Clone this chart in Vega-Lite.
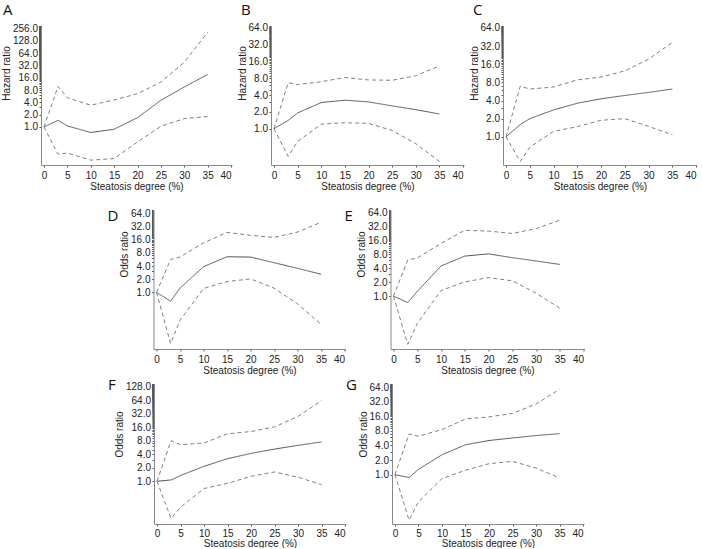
{
"$schema": "https://vega.github.io/schema/vega-lite/v6.json",
"background": "white",
"padding": {"left": 1, "top": 3, "right": 0, "bottom": 0},
"data": {"values": [
{"p":"A","x":0,"est":1,"lo":1,"hi":1},
{"p":"A","x":3,"est":1.45,"lo":0.215,"hi":9.8},
{"p":"A","x":5,"est":1.06,"lo":0.23,"hi":5.2},
{"p":"A","x":10,"est":0.73,"lo":0.154,"hi":3.4},
{"p":"A","x":15,"est":0.88,"lo":0.168,"hi":4.6},
{"p":"A","x":20,"est":1.69,"lo":0.43,"hi":6.5},
{"p":"A","x":25,"est":4.5,"lo":1.04,"hi":12.6},
{"p":"A","x":30,"est":9.5,"lo":1.6,"hi":38.6},
{"p":"A","x":35,"est":19.3,"lo":1.8,"hi":208},
{"p":"B","x":0,"est":1,"lo":1,"hi":1},
{"p":"B","x":3,"est":1.41,"lo":0.32,"hi":6.7},
{"p":"B","x":5,"est":1.92,"lo":0.59,"hi":6.2},
{"p":"B","x":10,"est":2.95,"lo":1.21,"hi":6.96},
{"p":"B","x":15,"est":3.25,"lo":1.28,"hi":8.3},
{"p":"B","x":20,"est":3.03,"lo":1.25,"hi":7.5},
{"p":"B","x":25,"est":2.57,"lo":0.93,"hi":7.4},
{"p":"B","x":30,"est":2.2,"lo":0.54,"hi":8.9},
{"p":"B","x":35,"est":1.84,"lo":0.26,"hi":13.4},
{"p":"C","x":0,"est":1,"lo":1,"hi":1},
{"p":"C","x":3,"est":1.59,"lo":0.39,"hi":6.9},
{"p":"C","x":5,"est":2.0,"lo":0.67,"hi":6.2},
{"p":"C","x":10,"est":2.79,"lo":1.23,"hi":6.7},
{"p":"C","x":15,"est":3.6,"lo":1.47,"hi":8.8},
{"p":"C","x":20,"est":4.27,"lo":1.88,"hi":9.8},
{"p":"C","x":25,"est":4.85,"lo":2.0,"hi":12.4},
{"p":"C","x":30,"est":5.45,"lo":1.49,"hi":19.4},
{"p":"C","x":35,"est":6.2,"lo":1.08,"hi":36.8},
{"p":"D","x":0,"est":1,"lo":1,"hi":1},
{"p":"D","x":3,"est":0.63,"lo":0.068,"hi":5.66},
{"p":"D","x":5,"est":1.25,"lo":0.23,"hi":6.4},
{"p":"D","x":10,"est":3.86,"lo":1.23,"hi":13.5},
{"p":"D","x":15,"est":6.5,"lo":1.77,"hi":23.4},
{"p":"D","x":20,"est":6.4,"lo":2.03,"hi":20},
{"p":"D","x":25,"est":4.76,"lo":1.25,"hi":18},
{"p":"D","x":30,"est":3.54,"lo":0.55,"hi":23.8},
{"p":"D","x":35,"est":2.6,"lo":0.186,"hi":40},
{"p":"E","x":0,"est":1,"lo":1,"hi":1},
{"p":"E","x":3,"est":0.73,"lo":0.092,"hi":5.96},
{"p":"E","x":5,"est":1.26,"lo":0.257,"hi":6.6},
{"p":"E","x":10,"est":4.44,"lo":1.32,"hi":13.6},
{"p":"E","x":15,"est":7.25,"lo":2.02,"hi":26},
{"p":"E","x":20,"est":8.1,"lo":2.5,"hi":25},
{"p":"E","x":25,"est":6.7,"lo":2.13,"hi":22.2},
{"p":"E","x":30,"est":5.7,"lo":1.16,"hi":28.3},
{"p":"E","x":35,"est":4.8,"lo":0.55,"hi":42.9},
{"p":"F","x":0,"est":1,"lo":1,"hi":1},
{"p":"F","x":3,"est":1.07,"lo":0.148,"hi":8.0},
{"p":"F","x":5,"est":1.34,"lo":0.265,"hi":6.5},
{"p":"F","x":10,"est":2.15,"lo":0.69,"hi":7.1},
{"p":"F","x":15,"est":3.18,"lo":0.9,"hi":11.4},
{"p":"F","x":20,"est":4.17,"lo":1.29,"hi":12.8},
{"p":"F","x":25,"est":5.2,"lo":1.61,"hi":16.2},
{"p":"F","x":30,"est":6.3,"lo":1.23,"hi":27.6},
{"p":"F","x":35,"est":7.5,"lo":0.84,"hi":62.7},
{"p":"G","x":0,"est":1,"lo":1,"hi":1},
{"p":"G","x":3,"est":0.87,"lo":0.115,"hi":6.9},
{"p":"G","x":5,"est":1.29,"lo":0.275,"hi":6.2},
{"p":"G","x":10,"est":2.57,"lo":0.83,"hi":8.5},
{"p":"G","x":15,"est":4.13,"lo":1.23,"hi":14.1},
{"p":"G","x":20,"est":5.06,"lo":1.68,"hi":15.5},
{"p":"G","x":25,"est":5.7,"lo":1.88,"hi":18.3},
{"p":"G","x":30,"est":6.4,"lo":1.37,"hi":28.5},
{"p":"G","x":35,"est":7.0,"lo":0.86,"hi":57.8}
]},
"center": true,
"spacing": 14,
"vconcat": [
{"hconcat": [
{"width": 191, "height": 139,
 "title": {"text": "A", "dx": -38, "dy": 1},
 "transform": [{"filter": "datum.p === 'A'"}, {"fold": ["est","lo","hi"], "as": ["s","y"]}],
 "mark": {"type": "line", "strokeWidth": 1},
 "encoding": {
  "x": {"field": "x", "type": "quantitative", "scale": {"domain": [-0.64, 40.2], "nice": false, "zero": false}, "axis": {"title": "Steatosis degree (%)", "values": [0,5,10,15,20,25,30,35,40], "format": "d"}},
  "y": {"field": "y", "type": "quantitative", "scale": {"type": "log", "base": 2, "domain": [0.117, 296], "nice": false}, "axis": {"title": "Hazard ratio", "titleY": 47, "values": [1,2,3,4,5,6,7,8,9,10,11,12,13,14,15,16,17,18,19,20,21,22,23,24,25,26,27,28,29,30,31,32,33,34,35,36,37,38,39,40,41,42,43,44,45,46,47,48,49,50,51,52,53,54,55,56,57,58,59,60,61,62,63,64,65,66,67,68,69,70,71,72,73,74,75,76,77,78,79,80,81,82,83,84,85,86,87,88,89,90,91,92,93,94,95,96,97,98,99,100,101,102,103,104,105,106,107,108,109,110,111,112,113,114,115,116,117,118,119,120,121,122,123,124,125,126,127,128,129,130,131,132,133,134,135,136,137,138,139,140,141,142,143,144,145,146,147,148,149,150,151,152,153,154,155,156,157,158,159,160,161,162,163,164,165,166,167,168,169,170,171,172,173,174,175,176,177,178,179,180,181,182,183,184,185,186,187,188,189,190,191,192,193,194,195,196,197,198,199,200,201,202,203,204,205,206,207,208,209,210,211,212,213,214,215,216,217,218,219,220,221,222,223,224,225,226,227,228,229,230,231,232,233,234,235,236,237,238,239,240,241,242,243,244,245,246,247,248,249,250,251,252,253,254,255,256,257,258,259,260,261,262,263,264,265,266,267,268,269,270,271,272,273,274,275,276,277,278,279,280,281,282,283,284,285,286,287,288,289,290,291,292,293,294,295,296]}},
  "detail": {"field": "s"},
  "strokeDash": {"field": "s", "type": "nominal", "scale": {"domain": ["est","lo","hi"], "range": [[1,0],[4,3],[4,3]]}, "legend": null},
  "color": {"field": "s", "type": "nominal", "scale": {"domain": ["est","lo","hi"], "range": ["#555555","#808080","#808080"]}, "legend": null}
 }},
{"width": 193, "height": 139,
 "title": {"text": "B", "dx": -30, "dy": 1},
 "transform": [{"filter": "datum.p === 'B'"}, {"fold": ["est","lo","hi"], "as": ["s","y"]}],
 "mark": {"type": "line", "strokeWidth": 1},
 "encoding": {
  "x": {"field": "x", "type": "quantitative", "scale": {"domain": [-0.63, 40.2], "nice": false, "zero": false}, "axis": {"title": "Steatosis degree (%)", "values": [0,5,10,15,20,25,30,35,40], "format": "d"}},
  "y": {"field": "y", "type": "quantitative", "scale": {"type": "log", "base": 2, "domain": [0.224, 69.5], "nice": false}, "axis": {"title": "Hazard ratio", "titleY": 47, "values": [1,2,3,4,5,6,7,8,9,10,11,12,13,14,15,16,17,18,19,20,21,22,23,24,25,26,27,28,29,30,31,32,33,34,35,36,37,38,39,40,41,42,43,44,45,46,47,48,49,50,51,52,53,54,55,56,57,58,59,60,61,62,63,64,65,66,67,68,69]}},
  "detail": {"field": "s"},
  "strokeDash": {"field": "s", "type": "nominal", "scale": {"domain": ["est","lo","hi"], "range": [[1,0],[4,3],[4,3]]}, "legend": null},
  "color": {"field": "s", "type": "nominal", "scale": {"domain": ["est","lo","hi"], "range": ["#555555","#808080","#808080"]}, "legend": null}
 }},
{"width": 194, "height": 139,
 "title": {"text": "C", "dx": -30, "dy": 1},
 "transform": [{"filter": "datum.p === 'C'"}, {"fold": ["est","lo","hi"], "as": ["s","y"]}],
 "mark": {"type": "line", "strokeWidth": 1},
 "encoding": {
  "x": {"field": "x", "type": "quantitative", "scale": {"domain": [-0.63, 40.2], "nice": false, "zero": false}, "axis": {"title": "Steatosis degree (%)", "values": [0,5,10,15,20,25,30,35,40], "format": "d"}},
  "y": {"field": "y", "type": "quantitative", "scale": {"type": "log", "base": 2, "domain": [0.34, 69], "nice": false}, "axis": {"title": "Hazard ratio", "titleY": 47, "values": [1,2,3,4,5,6,7,8,9,10,11,12,13,14,15,16,17,18,19,20,21,22,23,24,25,26,27,28,29,30,31,32,33,34,35,36,37,38,39,40,41,42,43,44,45,46,47,48,49,50,51,52,53,54,55,56,57,58,59,60,61,62,63,64,65,66,67,68,69]}},
  "detail": {"field": "s"},
  "strokeDash": {"field": "s", "type": "nominal", "scale": {"domain": ["est","lo","hi"], "range": [[1,0],[4,3],[4,3]]}, "legend": null},
  "color": {"field": "s", "type": "nominal", "scale": {"domain": ["est","lo","hi"], "range": ["#555555","#808080","#808080"]}, "legend": null}
 }}
], "spacing": 39, "bounds": "flush"},
{"vconcat": [
 {"hconcat": [
 {"width": 192, "height": 139,
  "title": {"text": "D", "dx": -46, "dy": 23},
  "transform": [{"filter": "datum.p === 'D'"}, {"fold": ["est","lo","hi"], "as": ["s","y"]}],
  "mark": {"type": "line", "strokeWidth": 1},
  "encoding": {
   "x": {"field": "x", "type": "quantitative", "scale": {"domain": [-0.64, 40.2], "nice": false, "zero": false}, "axis": {"title": "Steatosis degree (%)", "values": [0,5,10,15,20,25,30,35,40], "format": "d"}},
   "y": {"field": "y", "type": "quantitative", "scale": {"type": "log", "base": 2, "domain": [0.051, 76], "nice": false}, "axis": {"title": "Odds ratio", "titleY": 44, "values": [1,2,3,4,5,6,7,8,9,10,11,12,13,14,15,16,17,18,19,20,21,22,23,24,25,26,27,28,29,30,31,32,33,34,35,36,37,38,39,40,41,42,43,44,45,46,47,48,49,50,51,52,53,54,55,56,57,58,59,60,61,62,63,64,65,66,67,68,69,70,71,72,73,74,75,76]}},
   "detail": {"field": "s"},
   "strokeDash": {"field": "s", "type": "nominal", "scale": {"domain": ["est","lo","hi"], "range": [[1,0],[4,3],[4,3]]}, "legend": null},
   "color": {"field": "s", "type": "nominal", "scale": {"domain": ["est","lo","hi"], "range": ["#555555","#808080","#808080"]}, "legend": null}
  }},
 {"width": 194, "height": 139,
  "title": {"text": "E", "dx": -46, "dy": 23},
  "transform": [{"filter": "datum.p === 'E'"}, {"fold": ["est","lo","hi"], "as": ["s","y"]}],
  "mark": {"type": "line", "strokeWidth": 1},
  "encoding": {
   "x": {"field": "x", "type": "quantitative", "scale": {"domain": [-0.63, 40.2], "nice": false, "zero": false}, "axis": {"title": "Steatosis degree (%)", "values": [0,5,10,15,20,25,30,35,40], "format": "d"}},
   "y": {"field": "y", "type": "quantitative", "scale": {"type": "log", "base": 2, "domain": [0.073, 71], "nice": false}, "axis": {"title": "Odds ratio", "titleY": 44, "values": [1,2,3,4,5,6,7,8,9,10,11,12,13,14,15,16,17,18,19,20,21,22,23,24,25,26,27,28,29,30,31,32,33,34,35,36,37,38,39,40,41,42,43,44,45,46,47,48,49,50,51,52,53,54,55,56,57,58,59,60,61,62,63,64,65,66,67,68,69,70,71]}},
   "detail": {"field": "s"},
   "strokeDash": {"field": "s", "type": "nominal", "scale": {"domain": ["est","lo","hi"], "range": [[1,0],[4,3],[4,3]]}, "legend": null},
   "color": {"field": "s", "type": "nominal", "scale": {"domain": ["est","lo","hi"], "range": ["#555555","#808080","#808080"]}, "legend": null}
  }}
 ], "spacing": 45, "bounds": "flush"},
 {"hconcat": [
 {"width": 192, "height": 140,
  "title": {"text": "F", "dx": -46, "dy": 18},
  "transform": [{"filter": "datum.p === 'F'"}, {"fold": ["est","lo","hi"], "as": ["s","y"]}],
  "mark": {"type": "line", "strokeWidth": 1},
  "encoding": {
   "x": {"field": "x", "type": "quantitative", "scale": {"domain": [-0.64, 40.2], "nice": false, "zero": false}, "axis": {"title": "Steatosis degree (%)", "values": [0,5,10,15,20,25,30,35,40], "format": "d", "labelPadding": 2, "titlePadding": 0}},
   "y": {"field": "y", "type": "quantitative", "scale": {"type": "log", "base": 2, "domain": [0.112, 146], "nice": false}, "axis": {"title": "Odds ratio", "titleY": 50, "values": [1,2,3,4,5,6,7,8,9,10,11,12,13,14,15,16,17,18,19,20,21,22,23,24,25,26,27,28,29,30,31,32,33,34,35,36,37,38,39,40,41,42,43,44,45,46,47,48,49,50,51,52,53,54,55,56,57,58,59,60,61,62,63,64,65,66,67,68,69,70,71,72,73,74,75,76,77,78,79,80,81,82,83,84,85,86,87,88,89,90,91,92,93,94,95,96,97,98,99,100,101,102,103,104,105,106,107,108,109,110,111,112,113,114,115,116,117,118,119,120,121,122,123,124,125,126,127,128,129,130,131,132,133,134,135,136,137,138,139,140,141,142,143,144,145,146]}},
   "detail": {"field": "s"},
   "strokeDash": {"field": "s", "type": "nominal", "scale": {"domain": ["est","lo","hi"], "range": [[1,0],[4,3],[4,3]]}, "legend": null},
   "color": {"field": "s", "type": "nominal", "scale": {"domain": ["est","lo","hi"], "range": ["#555555","#808080","#808080"]}, "legend": null}
  }},
 {"width": 192, "height": 140,
  "title": {"text": "G", "dx": -46, "dy": 18},
  "transform": [{"filter": "datum.p === 'G'"}, {"fold": ["est","lo","hi"], "as": ["s","y"]}],
  "mark": {"type": "line", "strokeWidth": 1},
  "encoding": {
   "x": {"field": "x", "type": "quantitative", "scale": {"domain": [-0.63, 40.2], "nice": false, "zero": false}, "axis": {"title": "Steatosis degree (%)", "values": [0,5,10,15,20,25,30,35,40], "format": "d", "labelPadding": 2, "titlePadding": 0}},
   "y": {"field": "y", "type": "quantitative", "scale": {"type": "log", "base": 2, "domain": [0.096, 74], "nice": false}, "axis": {"title": "Odds ratio", "titleY": 50, "values": [1,2,3,4,5,6,7,8,9,10,11,12,13,14,15,16,17,18,19,20,21,22,23,24,25,26,27,28,29,30,31,32,33,34,35,36,37,38,39,40,41,42,43,44,45,46,47,48,49,50,51,52,53,54,55,56,57,58,59,60,61,62,63,64,65,66,67,68,69,70,71,72,73,74]}},
   "detail": {"field": "s"},
   "strokeDash": {"field": "s", "type": "nominal", "scale": {"domain": ["est","lo","hi"], "range": [[1,0],[4,3],[4,3]]}, "legend": null},
   "color": {"field": "s", "type": "nominal", "scale": {"domain": ["est","lo","hi"], "range": ["#555555","#808080","#808080"]}, "legend": null}
  }}
 ], "spacing": 46, "bounds": "flush"}
], "spacing": 3, "center": true}
],
"config": {
 "view": {"stroke": null},
 "title": {"anchor": "start", "frame": "group", "font": "Open Sans", "fontSize": 15, "fontWeight": "normal", "baseline": "top", "offset": 0, "color": "#111111"},
 "axis": {"labelFont": "Liberation Sans", "labelFontSize": 10, "titleFont": "Liberation Sans", "titleFontSize": 10, "titleFontWeight": "normal", "domainColor": "#888888", "tickColor": "#555555", "labelColor": "#222222", "titleColor": "#222222", "grid": false, "tickSize": 2, "labelPadding": 1.5},
 "axisX": {"labelPadding": 3, "titlePadding": 1},
 "axisY": {"labelOverlap": false, "titlePadding": 1, "labelExpr": "indexof([1,2,4,8,16,32,64,128,256], datum.value) >= 0 ? format(datum.value, '.1f') : ''"}
}
}
